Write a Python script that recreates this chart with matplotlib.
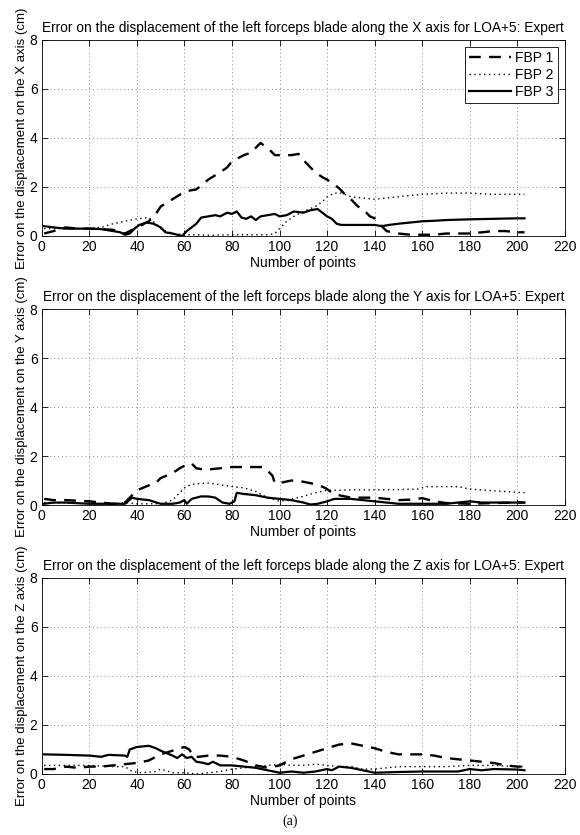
import matplotlib
matplotlib.use("Agg")
import matplotlib.pyplot as plt

# ---------------- data ----------------
x_ticks = [0, 20, 40, 60, 80, 100, 120, 140, 160, 180, 200, 220]
y_ticks = [0, 2, 4, 6, 8]
series_names = ["FBP 1", "FBP 2", "FBP 3"]
axis_names = ["X", "Y", "Z"]

# X axis panel
x_fbp1_X = [1, 5, 10, 15, 20, 25, 30, 35, 38, 40, 43, 45, 48, 50, 55, 60, 62, 65, 70, 75, 78, 80, 85, 88, 90, 92,
            94, 96, 98, 100, 105, 108, 110, 113, 115, 118, 120, 123, 125, 127, 130, 133, 135, 138, 140, 142, 145,
            150, 155, 160, 165, 170, 175, 180, 185, 190, 195, 200, 203]
y_fbp1_X = [0.1, 0.2, 0.35, 0.3, 0.3, 0.28, 0.25, 0.1, 0.25, 0.3, 0.5, 0.6, 0.9, 1.2, 1.5, 1.8, 1.85, 1.9, 2.3, 2.6,
            2.8, 3.05, 3.3, 3.4, 3.6, 3.8, 3.65, 3.5, 3.3, 3.3, 3.3, 3.35, 3.1, 2.8, 2.6, 2.4, 2.3, 2.1, 1.95, 1.75,
            1.5, 1.2, 1.1, 0.8, 0.72, 0.5, 0.2, 0.1, 0.05, 0.05, 0.05, 0.1, 0.1, 0.1, 0.15, 0.2, 0.2, 0.15, 0.15]
x_fbp2_X = [1, 10, 20, 25, 30, 35, 40, 45, 48, 50, 55, 60, 65, 70, 80, 90, 95, 98, 100, 103, 106, 110, 115, 118,
            120, 123, 126, 130, 135, 140, 145, 150, 160, 170, 180, 190, 200, 203]
y_fbp2_X = [0.3, 0.3, 0.3, 0.35, 0.5, 0.6, 0.7, 0.75, 0.5, 0.3, 0.1, 0.05, 0.05, 0.03, 0.05, 0.05, 0.05, 0.1, 0.3,
            0.6, 0.8, 1.0, 1.2, 1.4, 1.6, 1.75, 1.75, 1.6, 1.55, 1.5, 1.55, 1.6, 1.7, 1.75, 1.75, 1.7, 1.7, 1.7]
x_fbp3_X = [1, 5, 10, 15, 20, 25, 30, 33, 35, 37, 39, 41, 44, 47, 50, 52, 55, 57, 59, 61, 63, 65, 67, 70, 73, 75,
            78, 80, 82, 84, 86, 88, 90, 92, 95, 98, 100, 103, 106, 110, 113, 116, 118, 120, 122, 124, 126, 130, 135,
            140, 143, 146, 150, 155, 160, 165, 170, 180, 190, 200, 203]
y_fbp3_X = [0.4, 0.35, 0.3, 0.3, 0.3, 0.28, 0.2, 0.15, 0.05, 0.1, 0.3, 0.45, 0.55, 0.5, 0.35, 0.15, 0.1, 0.05, 0.0,
            0.2, 0.35, 0.5, 0.75, 0.8, 0.85, 0.8, 0.95, 0.9, 1.0, 0.75, 0.7, 0.8, 0.65, 0.8, 0.85, 0.9, 0.8, 0.85,
            1.0, 0.95, 1.05, 1.1, 0.95, 0.8, 0.7, 0.5, 0.45, 0.45, 0.45, 0.45, 0.4, 0.45, 0.5, 0.55, 0.6, 0.62,
            0.65, 0.68, 0.7, 0.72, 0.72]

# Y axis panel
x_fbp1_Y = [1, 5, 10, 20, 25, 30, 35, 37, 40, 45, 48, 50, 55, 58, 60, 63, 65, 68, 70, 75, 80, 85, 90, 93, 95, 97,
            98, 100, 105, 110, 115, 118, 120, 122, 125, 130, 140, 150, 155, 160, 165, 170, 180, 190, 200, 203]
y_fbp1_Y = [0.25, 0.2, 0.2, 0.15, 0.1, 0.05, 0.1, 0.3, 0.6, 0.8, 0.9, 1.1, 1.3, 1.5, 1.6, 1.7, 1.5, 1.45, 1.45, 1.5,
            1.55, 1.55, 1.55, 1.55, 1.4, 1.2, 0.9, 0.9, 1.0, 0.95, 0.85, 0.75, 0.65, 0.5, 0.4, 0.3, 0.3, 0.2, 0.22,
            0.28, 0.15, 0.08, 0.05, 0.08, 0.1, 0.1]
x_fbp2_Y = [1, 30, 35, 40, 50, 55, 58, 60, 63, 70, 80, 85, 90, 95, 100, 105, 110, 115, 120, 125, 130, 140, 150, 158,
            162, 175, 180, 190, 200, 203]
y_fbp2_Y = [0.1, 0.05, 0.1, 0.05, 0.05, 0.2, 0.5, 0.7, 0.85, 0.9, 0.75, 0.7, 0.55, 0.3, 0.15, 0.25, 0.35, 0.5, 0.6,
            0.6, 0.62, 0.62, 0.63, 0.65, 0.75, 0.75, 0.65, 0.58, 0.52, 0.5]
x_fbp3_Y = [1, 5, 10, 20, 30, 35, 38, 40, 45, 50, 55, 58, 60, 61, 63, 67, 70, 73, 76, 79, 81, 82, 85, 90, 95, 100,
            105, 110, 113, 116, 120, 123, 127, 130, 135, 140, 145, 150, 160, 170, 180, 185, 190, 200, 203]
y_fbp3_Y = [0.05, 0.1, 0.1, 0.05, 0.05, 0.05, 0.3, 0.25, 0.2, 0.05, 0.05, 0.1, 0.2, 0.05, 0.25, 0.35, 0.35, 0.3, 0.1,
            0.05, 0.15, 0.5, 0.45, 0.4, 0.3, 0.25, 0.2, 0.1, 0.02, 0.05, 0.15, 0.25, 0.25, 0.25, 0.2, 0.15, 0.1, 0.05,
            0.05, 0.05, 0.15, 0.1, 0.1, 0.1, 0.1]

# Z axis panel
x_fbp1_Z = [1, 5, 10, 15, 20, 25, 30, 35, 40, 45, 50, 55, 58, 60, 62, 64, 66, 70, 75, 80, 85, 90, 95, 100, 105, 110,
            115, 120, 125, 130, 135, 140, 145, 150, 155, 160, 165, 170, 175, 180, 185, 190, 195, 200, 203]
y_fbp1_Z = [0.2, 0.2, 0.3, 0.25, 0.3, 0.3, 0.35, 0.4, 0.45, 0.55, 0.8, 0.95, 1.05, 1.1, 1.0, 0.7, 0.7, 0.75, 0.75,
            0.7, 0.55, 0.35, 0.25, 0.35, 0.6, 0.75, 0.9, 1.05, 1.2, 1.25, 1.15, 1.05, 0.9, 0.8, 0.8, 0.8, 0.75, 0.65,
            0.6, 0.55, 0.5, 0.45, 0.35, 0.3, 0.3]
x_fbp2_Z = [1, 10, 20, 30, 35, 38, 42, 48, 50, 55, 60, 65, 70, 75, 80, 85, 90, 95, 100, 105, 110, 115, 120, 125, 130,
            135, 140, 145, 150, 160, 170, 180, 190, 200, 203]
y_fbp2_Z = [0.35, 0.35, 0.35, 0.3, 0.3, 0.1, 0.05, 0.1, 0.2, 0.05, 0.05, 0.0, 0.05, 0.1, 0.2, 0.25, 0.3, 0.35, 0.4,
            0.35, 0.35, 0.4, 0.35, 0.3, 0.3, 0.2, 0.2, 0.25, 0.3, 0.3, 0.3, 0.35, 0.35, 0.3, 0.3]
x_fbp3_Z = [1, 10, 20, 25, 28, 35, 36, 37, 40, 45, 48, 50, 55, 57, 59, 61, 63, 65, 68, 70, 72, 75, 80, 85, 90, 95,
            100, 105, 110, 115, 120, 122, 125, 130, 135, 140, 150, 160, 170, 175, 180, 185, 190, 200, 203]
y_fbp3_Z = [0.8, 0.78, 0.75, 0.7, 0.78, 0.75, 0.7, 1.0, 1.1, 1.15, 1.05, 0.95, 0.75, 0.65, 0.8, 0.65, 0.7, 0.5, 0.45,
            0.4, 0.5, 0.35, 0.35, 0.3, 0.25, 0.15, 0.05, 0.1, 0.05, 0.1, 0.2, 0.15, 0.3, 0.25, 0.15, 0.05, 0.08, 0.1,
            0.1, 0.1, 0.2, 0.15, 0.2, 0.18, 0.15]

panels = [
    [(x_fbp1_X, y_fbp1_X), (x_fbp2_X, y_fbp2_X), (x_fbp3_X, y_fbp3_X)],
    [(x_fbp1_Y, y_fbp1_Y), (x_fbp2_Y, y_fbp2_Y), (x_fbp3_Y, y_fbp3_Y)],
    [(x_fbp1_Z, y_fbp1_Z), (x_fbp2_Z, y_fbp2_Z), (x_fbp3_Z, y_fbp3_Z)],
]

# ---------------- plotting ----------------
plt.rcParams["font.family"] = ["Liberation Sans", "DejaVu Sans"]
fig = plt.figure(figsize=(5.8, 8.35), dpi=100)

left, width = 0.072, 0.902
bottoms = [0.7174, 0.3952, 0.0731]
height = 0.2347

styles = [
    dict(linestyle=(0, (5, 3.5)), linewidth=1.7),
    dict(linestyle=(0, (1, 2.5)), linewidth=1.0),
    dict(linestyle="-", linewidth=1.6),
]

for i, (ax_name, data) in enumerate(zip(axis_names, panels)):
    ax = fig.add_axes([left, bottoms[i], width, height])
    for (xs, ys), name, st in zip(data, series_names, styles):
        ax.plot(xs, ys, color="black", label=name, **st)
    ax.set_xlim(0, 220)
    ax.set_ylim(0, 8)
    ax.set_xticks(x_ticks)
    ax.set_yticks(y_ticks)
    ax.grid(True, linestyle=(0, (1, 3)), color="#888888", linewidth=0.7)
    ax.tick_params(direction="in", top=True, right=True, labelsize=10, length=4, width=0.6, pad=3)
    for sp in ax.spines.values():
        sp.set_linewidth(0.6)
    ax.set_title("Error on the displacement of the left forceps blade along the %s axis for LOA+5: Expert" % ax_name,
                 fontsize=9.9, pad=6)
    ax.set_xlabel("Number of points", fontsize=10, labelpad=1)
    ax.set_ylabel("Error on the displacement on the %s axis (cm)" % ax_name, fontsize=9.5, labelpad=1)
    if i == 0:
        leg = ax.legend(loc="upper right", fontsize=10, fancybox=False, framealpha=1, edgecolor="black",
                        handlelength=3.0, borderpad=0.3, labelspacing=0.2, handletextpad=0.3,
                        borderaxespad=0.5)
        leg.get_frame().set_linewidth(0.6)

fig.text(0.5, 0.016, "(a)", ha="center", va="center", fontsize=10,
         family=["Liberation Serif", "DejaVu Serif"])

fig.savefig("out.png", dpi=100)
